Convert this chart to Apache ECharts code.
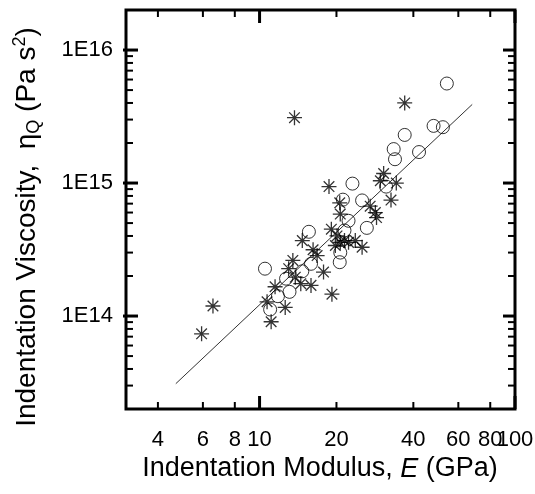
<!DOCTYPE html>
<html>
<head>
<meta charset="utf-8">
<script src="https://cdn.jsdelivr.net/npm/echarts@6/dist/echarts.min.js"></script>
<style>
html,body{margin:0;padding:0;background:#fff;}
#chart{width:535px;height:494px;}
</style>
</head>
<body>
<div id="chart"></div>
<script>
// ---- axis ranges and ticks ----
const X_RANGE = [3, 100];
const Y_RANGE = [2e13, 2e16];
const xTickLabels = [4, 6, 8, 10, 20, 40, 60, 80, 100];
const xMajorTicks = [10, 100];
const xMinorTicks = [4, 6, 8, 20, 40, 60, 80];
const yTickValues = [1e14, 1e15, 1e16];
const yTickLabels = ['1E14', '1E15', '1E16'];
const yMajorTicks = [1e14, 1e15, 1e16];
const yMinorTicks = [3e13, 4e13, 5e13, 6e13, 7e13, 8e13, 9e13,
                     2e14, 3e14, 4e14, 5e14, 6e14, 7e14, 8e14, 9e14,
                     2e15, 3e15, 4e15, 5e15, 6e15, 7e15, 8e15, 9e15];

// ---- data: open circles ----
const circleE   = [54.1, 48.0, 52.2, 37.0, 42.1, 33.5, 33.9, 23.1, 31.3, 21.2, 25.2, 22.3,
                   26.3, 21.5, 20.7, 20.6, 15.6, 15.9, 14.7, 12.7, 10.5, 13.1, 11.8, 11.0];
const circleEta = [5.6e15, 2.69e15, 2.63e15, 2.30e15, 1.71e15, 1.80e15, 1.51e15, 9.9e14, 9.4e14, 7.5e14, 7.4e14, 5.2e14,
                   4.6e14, 4.4e14, 3.0e14, 2.54e14, 4.3e14, 2.47e14, 2.17e14, 1.91e14, 2.27e14, 1.52e14, 1.41e14, 1.12e14];

// ---- data: asterisks ----
const starE   = [37.0, 13.7, 18.7, 30.6, 29.7, 34.3, 32.7, 20.6, 27.1, 28.4, 28.7, 20.7,
                 19.1, 20.1, 14.7, 20.7, 21.5, 22.3, 23.7, 25.2, 19.8, 16.2, 16.8, 13.5,
                 13.0, 17.8, 13.8, 14.5, 15.9, 11.5, 12.6, 19.2, 11.1, 10.7, 6.57, 5.93];
const starEta = [4.0e15, 3.1e15, 9.4e14, 1.18e15, 1.04e15, 1.0e15, 7.45e14, 7.1e14, 6.7e14, 6.0e14, 5.5e14, 5.84e14,
                 4.5e14, 4.0e14, 3.69e14, 3.58e14, 3.69e14, 3.58e14, 3.69e14, 3.29e14, 3.39e14, 3.15e14, 2.85e14, 2.62e14,
                 2.27e14, 2.14e14, 1.96e14, 1.75e14, 1.70e14, 1.66e14, 1.16e14, 1.46e14, 9.06e13, 1.28e14, 1.19e14, 7.35e13];

// ---- fitted line end points ----
const fitE   = [4.7, 68];
const fitEta = [3.1e13, 3.9e15];

const FONT = '"Liberation Sans", Arial, Helvetica, sans-serif';
const STAR = 'path://M7,0L7,14M0,7L14,7M2.05,2.05L11.95,11.95M2.05,11.95L11.95,2.05';

function zip(a, b) { return a.map((v, i) => [v, b[i]]); }

function xTickSeries(values, len, width) {
  return {
    type: 'custom', silent: true, z: 5,
    data: values.map(v => [v, Y_RANGE[0]]),
    renderItem: function (params, api) {
      const b = api.coord([api.value(0), Y_RANGE[0]]);
      const t = api.coord([api.value(0), Y_RANGE[1]]);
      const st = { stroke: '#000', lineWidth: width };
      return { type: 'group', children: [
        { type: 'line', shape: { x1: b[0], y1: b[1], x2: b[0], y2: b[1] - len }, style: st },
        { type: 'line', shape: { x1: t[0], y1: t[1], x2: t[0], y2: t[1] + len }, style: st }
      ]};
    }
  };
}
function yTickSeries(values, len, width, outward) {
  return {
    type: 'custom', silent: true, z: 5,
    data: values.map(v => [X_RANGE[0], v]),
    renderItem: function (params, api) {
      const l = api.coord([X_RANGE[0], api.value(1)]);
      const r = api.coord([X_RANGE[1], api.value(1)]);
      const st = { stroke: '#000', lineWidth: width };
      return { type: 'group', children: [
        { type: 'line', shape: { x1: l[0] - outward, y1: l[1], x2: l[0] + len, y2: l[1] }, style: st },
        { type: 'line', shape: { x1: r[0], y1: r[1], x2: r[0] - len, y2: r[1] }, style: st }
      ]};
    }
  };
}

const chart = echarts.init(document.getElementById('chart'), null, { renderer: 'canvas' });
chart.setOption({
  backgroundColor: '#fff',
  animation: false,
  grid: { left: 126, right: 20, top: 10, bottom: 85, show: true, borderColor: '#000', borderWidth: 3, backgroundColor: 'transparent' },
  xAxis: {
    type: 'log', logBase: 10, min: X_RANGE[0], max: X_RANGE[1],
    axisLine: { show: false }, axisTick: { show: false }, axisLabel: { show: false }, splitLine: { show: false }
  },
  yAxis: {
    type: 'log', logBase: 10, min: Y_RANGE[0], max: Y_RANGE[1],
    axisLine: { show: false }, axisTick: { show: false }, axisLabel: { show: false }, splitLine: { show: false }
  },
  graphic: [
    {
      type: 'text', x: 320, y: 469, z: 10,
      style: {
        text: '{a|Indentation Modulus, }{i|E}{a| (GPa)}',
        align: 'center', verticalAlign: 'middle', fill: '#000',
        rich: {
          a: { fontSize: 27, fontFamily: FONT, lineHeight: 32, fill: '#000' },
          i: { fontSize: 27, fontFamily: FONT, fontStyle: 'italic', lineHeight: 32, fill: '#000' }
        }
      }
    },
    {
      type: 'text', x: 27.5, y: 227, rotation: Math.PI / 2, z: 10,
      style: {
        text: '{a|Indentation Viscosity,  η}{s|Q}{a| (Pa s}{p|2}{a|)}',
        align: 'center', verticalAlign: 'middle', fill: '#000',
        rich: {
          a: { fontSize: 28, fontFamily: FONT, lineHeight: 32, fill: '#000' },
          s: { fontSize: 18, fontFamily: FONT, lineHeight: 18, verticalAlign: 'bottom', fill: '#000' },
          p: { fontSize: 18, fontFamily: FONT, lineHeight: 18, verticalAlign: 'top', fill: '#000' }
        }
      }
    }
  ],
  series: [
    {
      name: 'fit', type: 'line', data: zip(fitE, fitEta), symbol: 'none', silent: true,
      lineStyle: { color: '#333', width: 1 }, z: 2
    },
    {
      name: 'circles', type: 'scatter', data: zip(circleE, circleEta), symbol: 'circle', symbolSize: 13,
      itemStyle: { color: 'transparent', borderColor: '#000', borderWidth: 1 }, z: 3
    },
    {
      name: 'stars', type: 'scatter', data: zip(starE, starEta), symbol: STAR, symbolSize: 15,
      itemStyle: { color: 'transparent', borderColor: '#000', borderWidth: 1.3 }, z: 3
    },
    xTickSeries(xMajorTicks, 13, 3),
    xTickSeries(xMinorTicks, 7, 2),
    yTickSeries(yMajorTicks, 12, 3, 3),
    yTickSeries(yMinorTicks, 7, 2, 0),
    {
      type: 'custom', silent: true, z: 6,
      data: xTickLabels.map(v => [v, Y_RANGE[0]]),
      renderItem: function (params, api) {
        const p = api.coord([api.value(0), Y_RANGE[0]]);
        return { type: 'text', x: p[0], y: p[1] + 31,
          style: { text: String(xTickLabels[params.dataIndex]), fontSize: 22, fontFamily: FONT, fill: '#000', align: 'center', verticalAlign: 'middle' } };
      }
    },
    {
      type: 'custom', silent: true, z: 6,
      data: yTickValues.map(v => [X_RANGE[0], v]),
      renderItem: function (params, api) {
        const p = api.coord([X_RANGE[0], api.value(1)]);
        return { type: 'text', x: p[0] - 13, y: p[1],
          style: { text: yTickLabels[params.dataIndex], fontSize: 22, fontFamily: FONT, fill: '#000', align: 'right', verticalAlign: 'middle' } };
      }
    }
  ]
});
</script>
</body>
</html>
